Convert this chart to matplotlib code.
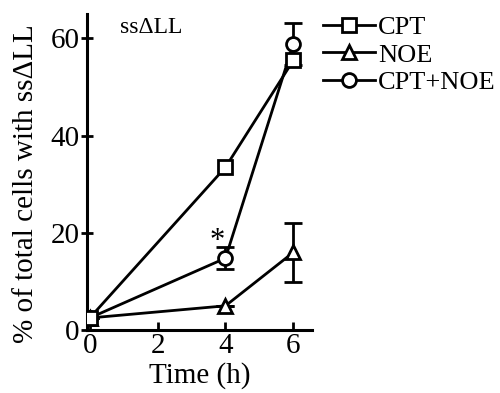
import matplotlib
matplotlib.use("Agg")
import matplotlib.pyplot as plt
from matplotlib.lines import Line2D

plt.rcParams['font.family'] = ['Liberation Serif', 'DejaVu Serif']

time_h = [0, 4, 6]
cpt = [2.5, 33.5, 55.5]
noe = [2.5, 5.0, 16.0]
noe_err = [0, 0, 6.0]
cpt_noe = [2.5, 14.8, 58.9]
cpt_noe_err = [0, 2.2, 4.3]
series_labels = ['CPT', 'NOE', 'CPT+NOE']
xticks = [0, 2, 4, 6]
yticks = [0, 20, 40, 60]

fig = plt.figure(figsize=(5, 3.93), dpi=100)
ax = fig.add_axes([0.174, 0.160, 0.450, 0.804])

lw = 2.0
ms = 10
kw = dict(color='black', lw=lw, ms=ms, mfc='white', mec='black', mew=lw)
ax.errorbar(time_h, noe, yerr=noe_err, fmt='-^', capsize=6.5, capthick=lw, elinewidth=lw, zorder=3, **kw)
ax.errorbar(time_h, cpt_noe, yerr=cpt_noe_err, fmt='-o', capsize=6.5, capthick=lw, elinewidth=lw, zorder=3, **kw)
ax.plot(time_h, cpt, '-s', zorder=4, **kw)

ax.text(3.75, 18.3, '*', fontsize=22, ha='center', va='center')
ax.text(0.9, 62.2, 'ss\u0394LL', fontsize=17, ha='left', va='center')

ax.set_xlim(-0.08, 6.55)
ax.set_ylim(0, 65)
ax.set_xticks(xticks)
ax.set_yticks(yticks)
ax.tick_params(axis='x', direction='in', width=lw, length=6, labelsize=21, pad=2)
ax.tick_params(axis='y', direction='inout', width=lw, length=9, labelsize=21, pad=1)
for s in ['top', 'right']:
    ax.spines[s].set_visible(False)
for s in ['left', 'bottom']:
    ax.spines[s].set_linewidth(2.2)
ax.set_xlabel('Time (h)', fontsize=21, labelpad=2)
ax.set_ylabel('% of total cells with ss\u0394LL', fontsize=21)
ax.yaxis.set_label_coords(-0.215, 0.465)

handles = [Line2D([], [], marker=m, **kw) for m in ['s', '^', 'o']]
fig.legend(handles, series_labels, loc='upper left', bbox_to_anchor=(0.624, 0.987),
           frameon=False, fontsize=19, handlelength=2.0, handletextpad=0.1, labelspacing=0.15,
           borderaxespad=0)

fig.savefig('out.png', dpi=100)
